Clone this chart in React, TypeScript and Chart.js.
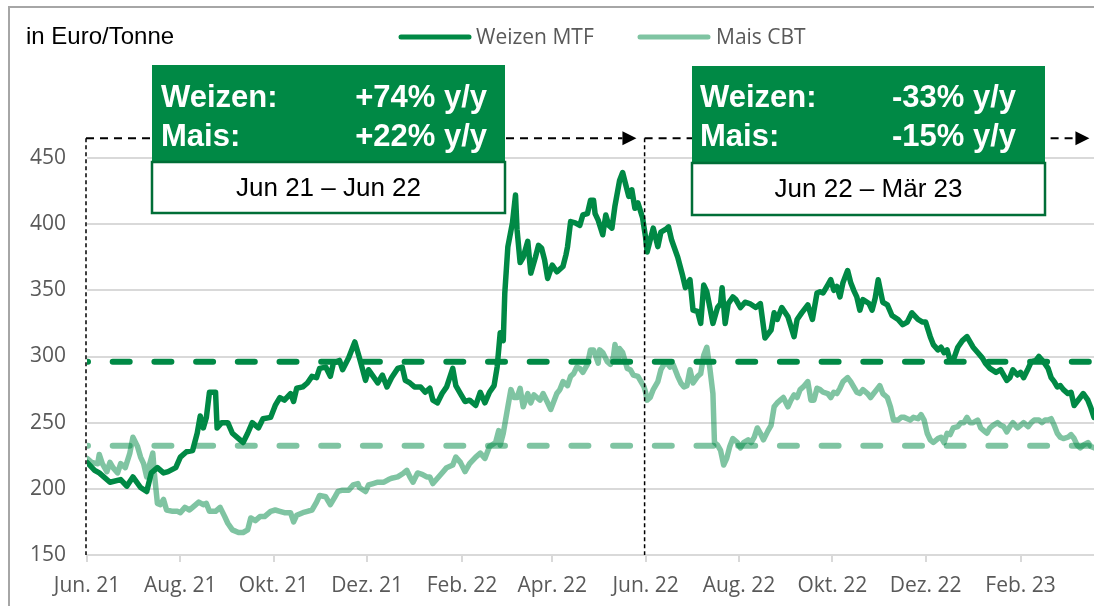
import React, { useEffect, useRef } from 'react';
import { Chart, registerables } from 'chart.js';

Chart.register(...registerables);

// ---------- data ----------
const tickDays = [0, 61, 122, 183, 245, 304, 365, 426, 487, 548, 610];
const tickLabels = ['Jun. 21', 'Aug. 21', 'Okt. 21', 'Dez. 21', 'Feb. 22', 'Apr. 22', 'Jun. 22', 'Aug. 22', 'Okt. 22', 'Dez. 22', 'Feb. 23'];

// days since 1 Jun 2021
const weizenDays = [
  0, 5, 8, 15, 22, 26, 30, 35, 39, 42,
  46, 50, 53, 58, 61, 65, 69, 72, 74, 76,
  78, 80, 84, 85, 88, 92, 95, 100, 102, 105,
  108, 112, 115, 120, 123, 126, 129, 133, 135, 137,
  141, 144, 147, 150, 152, 156, 159, 161, 165, 167,
  171, 175, 178, 182, 184, 187, 190, 193, 196, 199,
  203, 206, 208, 211, 214, 218, 221, 224, 226, 229,
  232, 235, 239, 241, 244, 247, 250, 254, 257, 260,
  263, 266, 268, 270, 272, 273, 275, 278, 280, 281,
  283, 285, 288, 290, 293, 295, 297, 299, 301, 304,
  307, 311, 313, 314, 316, 319, 322, 324, 327, 329,
  331, 332, 334, 337, 339, 341, 343, 345, 348, 350,
  352, 354, 356, 358, 360, 363, 365, 366, 368, 370,
  373, 375, 378, 380, 382, 386, 389, 391, 394, 396,
  399, 401, 403, 405, 407, 409, 412, 414, 415, 417,
  419, 422, 424, 427, 430, 433, 437, 440, 443, 447,
  449, 451, 454, 458, 462, 464, 467, 471, 474, 477,
  479, 481, 484, 486, 488, 490, 492, 494, 497, 499,
  501, 503, 505, 507, 511, 513, 515, 517, 520, 523,
  526, 530, 533, 536, 539, 543, 546, 548, 551, 553,
  556, 558, 560, 562, 564, 566, 569, 572, 575, 579,
  582, 585, 587, 590, 594, 597, 599, 601, 603, 605,
  608, 610, 612, 615, 617, 620, 622, 625, 628, 630,
  632, 634, 636, 638, 641, 643, 645, 647, 649, 651,
  654, 656, 658,
];
const weizenValues = [
  220, 214, 212, 205, 207, 202, 209, 201, 198, 212,
  216, 212, 213, 216, 224, 228, 229, 242, 255, 246,
  254, 273, 273, 246, 250, 250, 242, 237, 235, 242,
  250, 246, 253, 254, 263, 269, 267, 272, 266, 276,
  277, 280, 285, 284, 291, 292, 285, 295, 297, 290,
  299, 311, 299, 282, 290, 285, 280, 286, 277, 284,
  291, 292, 282, 280, 277, 277, 273, 276, 267, 265,
  272, 277, 291, 278, 272, 266, 267, 263, 273, 265,
  273, 278, 292, 318, 312, 348, 383, 401, 422, 396,
  371, 375, 387, 363, 375, 384, 382, 373, 359, 369,
  364, 368, 377, 383, 402, 401, 399, 407, 408, 418,
  418, 408, 403, 392, 407, 399, 397, 414, 433, 439,
  430, 421, 426, 412, 416, 405, 390, 379, 388, 397,
  383, 394, 396, 398, 388, 375, 362, 352, 358, 335,
  334, 325, 354, 349, 337, 325, 337, 340, 352, 325,
  340, 345, 343, 337, 341, 340, 337, 340, 314, 320,
  333, 328, 337, 330, 315, 328, 333, 339, 328, 348,
  349, 348, 354, 358, 350, 353, 345, 356, 365, 356,
  350, 345, 335, 343, 340, 335, 344, 358, 341, 339,
  331, 328, 324, 326, 333, 328, 326, 326, 315, 309,
  305, 307, 303, 305, 297, 297, 307, 312, 315, 307,
  303, 299, 295, 291, 288, 290, 286, 282, 284, 290,
  286, 288, 284, 291, 296, 297, 300, 296, 291, 284,
  281, 277, 278, 275, 272, 273, 263, 266, 269, 272,
  267, 261, 254,
];

const maisDays = [
  0, 3, 7, 8, 10, 13, 15, 17, 20, 22,
  25, 28, 30, 33, 35, 37, 39, 41, 43, 44,
  46, 48, 50, 52, 56, 59, 61, 64, 67, 69,
  73, 76, 78, 80, 84, 87, 90, 92, 95, 99,
  102, 105, 107, 110, 113, 116, 120, 123, 126, 129,
  133, 135, 137, 141, 144, 147, 150, 152, 156, 159,
  162, 164, 167, 171, 174, 177, 178, 182, 184, 187,
  190, 194, 197, 199, 203, 207, 209, 211, 213, 216,
  219, 222, 224, 226, 229, 232, 235, 239, 241, 244,
  247, 250, 254, 257, 260, 263, 267, 269, 270, 272,
  275, 277, 279, 281, 283, 285, 288, 290, 292, 294,
  296, 298, 301, 303, 305, 307, 309, 311, 314, 316,
  318, 320, 322, 324, 327, 329, 331, 334, 335, 337,
  340, 342, 344, 345, 347, 348, 350, 353, 355, 357,
  360, 362, 364, 365, 366, 368, 370, 373, 375, 377,
  379, 381, 383, 386, 388, 390, 392, 394, 396, 399,
  401, 403, 405, 407, 409, 410, 412, 414, 416, 418,
  420, 422, 425, 427, 429, 432, 434, 436, 438, 440,
  442, 445, 447, 449, 451, 453, 455, 458, 460, 462,
  464, 466, 468, 471, 473, 475, 477, 479, 481, 484,
  486, 488, 490, 492, 494, 497, 499, 501, 503, 505,
  507, 510, 512, 514, 516, 518, 520, 523, 525, 527,
  530, 532, 534, 536, 538, 540, 543, 545, 547, 549,
  551, 553, 556, 558, 560, 562, 564, 566, 569, 571,
  573, 575, 577, 579, 582, 584, 586, 588, 590, 592,
  595, 597, 599, 601, 603, 605, 608, 610, 612, 615,
  617, 619, 622, 624, 626, 628, 630, 632, 634, 636,
  638, 641, 643, 645, 647, 649, 651, 654, 656, 658,
];
const maisValues = [
  223, 220, 219, 226, 219, 213, 220, 216, 212, 219,
  216, 227, 239, 232, 224, 219, 209, 219, 227, 212,
  189, 188, 192, 184, 183, 183, 182, 186, 184, 186,
  190, 188, 189, 183, 183, 186, 179, 174, 169, 167,
  167, 169, 178, 176, 179, 179, 183, 184, 183, 182,
  182, 175, 180, 182, 183, 184, 190, 195, 194, 188,
  194, 198, 199, 199, 203, 204, 201, 198, 203, 204,
  205, 205, 207, 208, 209, 212, 214, 209, 205, 212,
  211, 209, 209, 204, 208, 212, 216, 218, 224, 220,
  213, 219, 224, 227, 223, 232, 235, 244, 233, 242,
  262, 275, 269, 269, 276, 262, 272, 265, 271, 269,
  267, 272, 265, 260, 266, 272, 275, 281, 278, 285,
  287, 292, 291, 288, 294, 305, 305, 295, 305, 303,
  296, 294, 300, 309, 297, 306, 303, 291, 290, 286,
  285, 281, 277, 273, 267, 269, 275, 281, 290, 294,
  295, 292, 294, 285, 280, 277, 278, 290, 280, 285,
  287, 301, 307, 291, 272, 235, 233, 229, 218, 223,
  232, 238, 235, 231, 235, 237, 235, 239, 246, 242,
  237, 244, 248, 262, 265, 267, 269, 262, 267, 271,
  269, 275, 277, 281, 267, 267, 276, 275, 273, 272,
  269, 273, 272, 276, 281, 284, 281, 277, 273, 272,
  275, 272, 269, 272, 275, 278, 272, 269, 262, 252,
  252, 254, 254, 253, 252, 254, 253, 256, 252, 242,
  237, 235, 238, 239, 235, 242, 241, 246, 247, 250,
  250, 254, 250, 250, 252, 246, 244, 242, 246, 248,
  250, 248, 247, 243, 247, 250, 246, 248, 250, 247,
  250, 252, 252, 250, 252, 252, 253, 248, 242, 239,
  238, 239, 241, 238, 233, 231, 233, 235, 232, 231,
];

const weizenAverage = 296;
const maisAverage = 232.5;

const seriesLabels = ['Weizen MTF', 'Mais CBT'];
const unitLabel = 'in Euro/Tonne';

const periodStarts = [0, 365];
const periodArrowEnds = [359, 655];
const periodArrowLevel = 465;
const periodWeizenText = ['+74% y/y', '-33% y/y'];
const periodMaisText = ['+22% y/y', '-15% y/y'];
const periodRangeText = ['Jun 21 \u2013 Jun 22', 'Jun 22 \u2013 M\u00e4r 23'];

// ---------- style ----------
const DARK = '#008945';
const LIGHT = 'rgba(0,137,69,0.5)';
const BORDER_GREEN = '#006E37';
const AXIS_TEXT = '#595959';
const GRID = '#d9d9d9';
const TICK_FONT = '"Open Sans", "DejaVu Sans", sans-serif';
const ARIAL = '"Liberation Sans", Arial, sans-serif';

const boxLayout = [
  { left: 152, right: 505, top: 65, mid: 162, bottom: 213, textLeft: 161, textRight: 487 },
  { left: 692, right: 1045, top: 66, mid: 163, bottom: 215, textLeft: 700, textRight: 1016 },
];

const overlayPlugin = {
  id: 'overlay',
  afterDatasetsDraw(chart: any) {
    const { ctx } = chart;
    const xs = chart.scales.x;
    const ys = chart.scales.y;
    ctx.save();

    // outer frame
    ctx.strokeStyle = '#a6a6a6';
    ctx.lineWidth = 2;
    ctx.setLineDash([]);
    ctx.strokeRect(9, 7, 1300, 800);

    // unit label
    ctx.fillStyle = '#000';
    ctx.font = `24px ${ARIAL}`;
    ctx.textAlign = 'left';
    ctx.textBaseline = 'middle';
    ctx.fillText(unitLabel, 26, 37);

    // legend
    const legend = [
      { label: seriesLabels[0], color: DARK, x0: 401, x1: 469, tx: 476 },
      { label: seriesLabels[1], color: LIGHT, x0: 640, x1: 708, tx: 716 },
    ];
    ctx.font = `21px ${TICK_FONT}`;
    legend.forEach((item) => {
      ctx.strokeStyle = item.color;
      ctx.lineWidth = 5;
      ctx.lineCap = 'round';
      ctx.beginPath();
      ctx.moveTo(item.x0, 37);
      ctx.lineTo(item.x1, 37);
      ctx.stroke();
      ctx.fillStyle = AXIS_TEXT;
      ctx.fillText(item.label, item.tx, 38);
    });
    ctx.lineCap = 'butt';

    // period markers
    const yArrow = ys.getPixelForValue(periodArrowLevel);
    const yBase = ys.getPixelForValue(150);
    periodStarts.forEach((start, i) => {
      const x0 = xs.getPixelForValue(start) - 1;
      const x1 = xs.getPixelForValue(periodArrowEnds[i]);
      ctx.strokeStyle = '#000';
      ctx.fillStyle = '#000';
      ctx.lineWidth = 1.5;
      ctx.setLineDash([4, 3]);
      ctx.beginPath();
      ctx.moveTo(x0, yArrow);
      ctx.lineTo(x0, yBase);
      ctx.stroke();
      ctx.lineWidth = 2;
      ctx.setLineDash([8, 6]);
      ctx.beginPath();
      ctx.moveTo(x0, yArrow);
      ctx.lineTo(x1 - 14, yArrow);
      ctx.stroke();
      ctx.setLineDash([]);
      ctx.beginPath();
      ctx.moveTo(x1, yArrow);
      ctx.lineTo(x1 - 14, yArrow - 7);
      ctx.lineTo(x1 - 14, yArrow + 7);
      ctx.closePath();
      ctx.fill();
    });

    // boxes
    boxLayout.forEach((b, i) => {
      ctx.fillStyle = DARK;
      ctx.fillRect(b.left, b.top, b.right - b.left, b.mid - b.top);
      ctx.fillStyle = '#fff';
      ctx.fillRect(b.left, b.mid, b.right - b.left, b.bottom - b.mid);
      ctx.strokeStyle = BORDER_GREEN;
      ctx.lineWidth = 2.5;
      ctx.strokeRect(b.left, b.mid, b.right - b.left, b.bottom - b.mid);

      ctx.fillStyle = '#fff';
      ctx.font = `bold 31px ${ARIAL}`;
      ctx.textBaseline = 'alphabetic';
      ctx.textAlign = 'left';
      ctx.fillText('Weizen:', b.textLeft, 107);
      ctx.fillText('Mais:', b.textLeft, 146);
      ctx.textAlign = 'right';
      ctx.fillText(periodWeizenText[i], b.textRight, 107);
      ctx.fillText(periodMaisText[i], b.textRight, 146);

      ctx.fillStyle = '#000';
      ctx.font = `26px ${ARIAL}`;
      ctx.textAlign = 'center';
      ctx.textBaseline = 'middle';
      ctx.fillText(periodRangeText[i], (b.left + b.right) / 2, (b.mid + b.bottom) / 2 + 1);
    });

    ctx.restore();
  },
};

export default function App() {
  const canvasRef = useRef<HTMLCanvasElement | null>(null);

  useEffect(() => {
    document.body.style.margin = '0';
    const canvas = canvasRef.current;
    if (!canvas) return;

    const weizenPoints = weizenDays.map((d, i) => ({ x: d, y: weizenValues[i] }));
    const maisPoints = maisDays.map((d, i) => ({ x: d, y: maisValues[i] }));
    const xMax = 658;

    const chart = new Chart(canvas, {
      type: 'line',
      data: {
        datasets: [
          {
            label: seriesLabels[0],
            data: weizenPoints,
            borderColor: DARK,
            borderWidth: 5.5,
            pointRadius: 0,
            tension: 0,
            borderJoinStyle: 'round',
            borderCapStyle: 'round',
            order: 2,
          },
          {
            label: seriesLabels[1],
            data: maisPoints,
            borderColor: LIGHT,
            borderWidth: 5.5,
            pointRadius: 0,
            tension: 0,
            borderJoinStyle: 'round',
            borderCapStyle: 'round',
            order: 1,
          },
          {
            label: 'avg1',
            data: [{ x: 0, y: weizenAverage }, { x: xMax, y: weizenAverage }],
            borderColor: DARK,
            borderWidth: 6,
            borderDash: [17, 24.7],
            borderDashOffset: 16,
            borderCapStyle: 'round',
            pointRadius: 0,
            order: 4,
          },
          {
            label: 'avg2',
            data: [{ x: 0, y: maisAverage }, { x: xMax, y: maisAverage }],
            borderColor: LIGHT,
            borderWidth: 6,
            borderDash: [17, 24.7],
            borderDashOffset: 16,
            borderCapStyle: 'round',
            pointRadius: 0,
            order: 3,
          },
        ],
      },
      options: {
        responsive: false,
        animation: false,
        devicePixelRatio: 1,
        events: [],
        layout: { padding: { top: 158, left: 0, right: 0, bottom: 0 } },
        plugins: {
          legend: { display: false },
          tooltip: { enabled: false },
          title: { display: false },
        },
        scales: {
          x: {
            type: 'linear',
            min: 0,
            max: xMax,
            afterBuildTicks: (axis: any) => {
              axis.ticks = tickDays.map((v) => ({ value: v }));
            },
            afterFit: (axis: any) => {
              axis.height = 51;
            },
            ticks: {
              autoSkip: false,
              maxRotation: 0,
              minRotation: 0,
              color: AXIS_TEXT,
              font: { family: TICK_FONT, size: 21 },
              padding: 11,
              callback: (v: any) => {
                const idx = tickDays.indexOf(Number(v));
                return idx >= 0 ? tickLabels[idx] : '';
              },
            },
            grid: {
              drawOnChartArea: false,
              drawTicks: true,
              tickLength: 7,
              color: GRID,
              lineWidth: 2,
            },
            border: { display: true, color: GRID, width: 2 },
          },
          y: {
            min: 150,
            max: 450,
            afterFit: (axis: any) => {
              axis.width = 87;
            },
            ticks: {
              stepSize: 50,
              color: AXIS_TEXT,
              font: { family: TICK_FONT, size: 21 },
              padding: 21,
            },
            grid: { color: GRID, lineWidth: 2, drawTicks: false },
            border: { display: false },
          },
        },
      },
      plugins: [overlayPlugin],
    } as any);

    return () => chart.destroy();
  }, []);

  return (
    <div style={{ position: 'absolute', left: 0, top: 0, width: 1094, height: 606, background: '#fff', overflow: 'hidden' }}>
      <canvas ref={canvasRef} width={1094} height={606} style={{ display: 'block' }} />
    </div>
  );
}
